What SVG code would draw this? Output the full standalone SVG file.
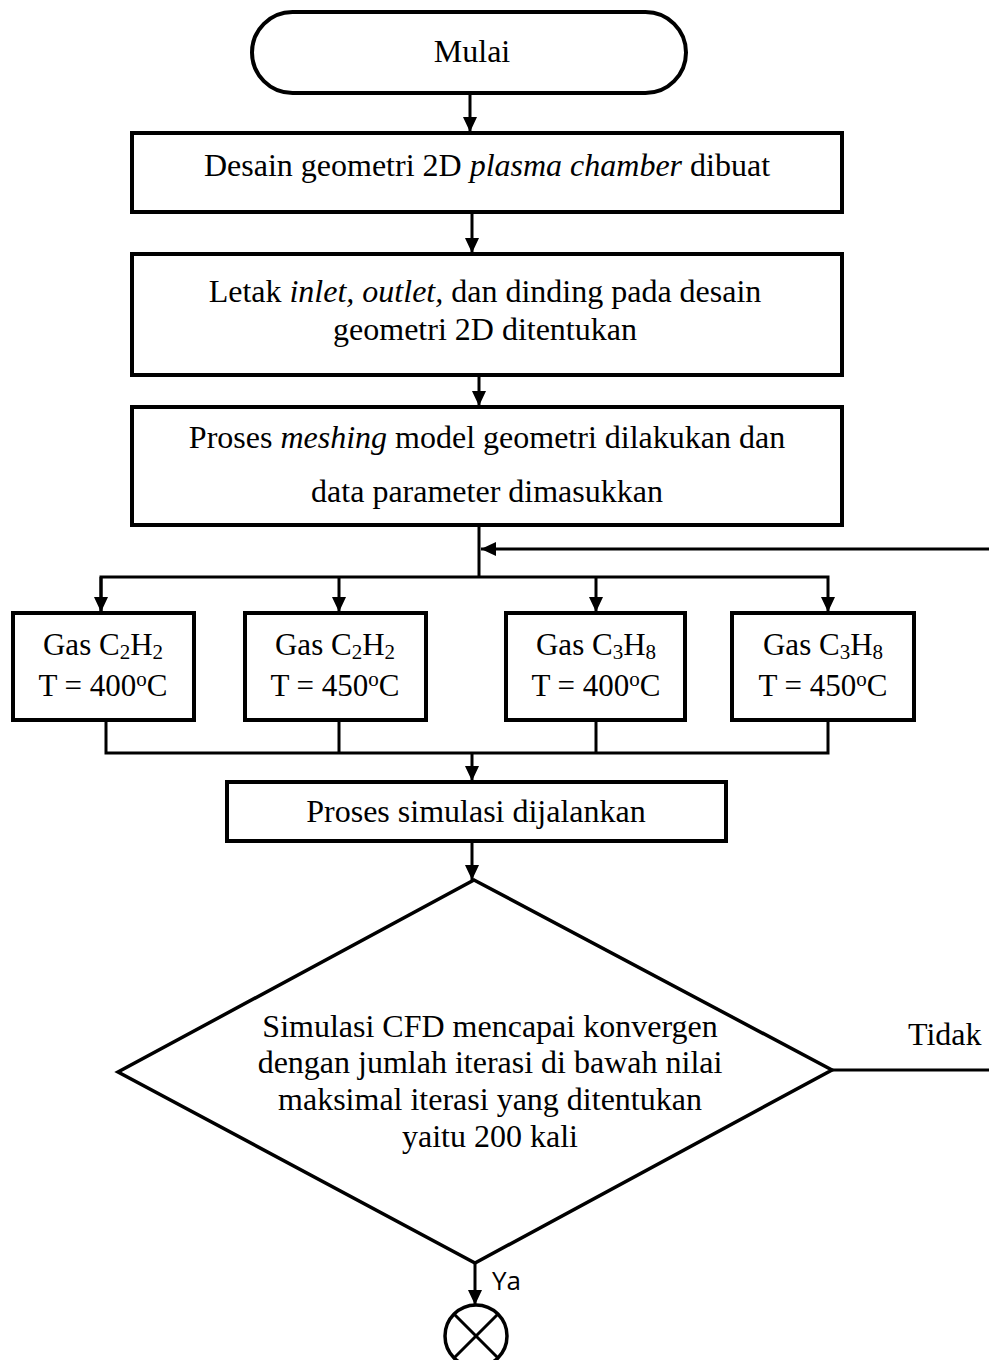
<svg xmlns="http://www.w3.org/2000/svg" width="989" height="1360" viewBox="0 0 989 1360">
<style>
  .box { fill: #fff; stroke: #000; stroke-width: 4; }
  .ln { fill: none; stroke: #000; stroke-width: 3; }
  .t { font-family: "Liberation Serif", "Times New Roman", serif; font-size: 32px; fill: #000; text-anchor: middle; }
  .g { font-family: "Liberation Serif", "Times New Roman", serif; font-size: 31px; fill: #000; text-anchor: middle; }
  .sub { font-size: 21px; }
  .ya { font-family: "Open Sans", "DejaVu Sans", sans-serif; font-size: 26px; fill: #000; }
</style>
<defs>
  <marker id="ah" markerUnits="userSpaceOnUse" markerWidth="15" markerHeight="14" refX="15" refY="7" orient="auto">
    <path d="M0,0 L15,7 L0,14 z" fill="#000"/>
  </marker>
</defs>
<rect width="989" height="1360" fill="#fff"/>

<g id="connectors">
  <line class="ln" x1="470" y1="93" x2="470" y2="132" marker-end="url(#ah)"/>
  <line class="ln" x1="472" y1="212" x2="472" y2="253" marker-end="url(#ah)"/>
  <line class="ln" x1="479" y1="375" x2="479" y2="406" marker-end="url(#ah)"/>
  <line class="ln" x1="479" y1="525" x2="479" y2="577"/>
  <line class="ln" x1="989" y1="549" x2="481" y2="549" marker-end="url(#ah)"/>
  <polyline class="ln" points="101,612 101,577 828,577 828,612" marker-end="url(#ah)"/>
  <line class="ln" x1="101" y1="577" x2="101" y2="612" marker-end="url(#ah)"/>
  <line class="ln" x1="339" y1="577" x2="339" y2="612" marker-end="url(#ah)"/>
  <line class="ln" x1="596" y1="577" x2="596" y2="612" marker-end="url(#ah)"/>
  <polyline class="ln" points="106,720 106,753 828,753 828,720"/>
  <line class="ln" x1="339" y1="720" x2="339" y2="753"/>
  <line class="ln" x1="596" y1="720" x2="596" y2="753"/>
  <line class="ln" x1="472" y1="753" x2="472" y2="781" marker-end="url(#ah)"/>
  <line class="ln" x1="472" y1="841" x2="472" y2="880" marker-end="url(#ah)"/>
  <line class="ln" x1="832" y1="1070" x2="989" y2="1070"/>
  <line class="ln" x1="475" y1="1263" x2="475" y2="1305" marker-end="url(#ah)"/>
  <text class="t" x="908" y="1045" style="text-anchor:start">Tidak</text>
  <text class="ya" x="492" y="1290">Ya</text>
</g>

<g id="mulai">
  <rect class="box" x="252" y="12" width="434" height="81" rx="40.5" ry="40.5"/>
  <text class="t" x="472" y="62">Mulai</text>
</g>

<g id="desain">
  <rect class="box" x="132" y="133" width="710" height="79"/>
  <text class="t" x="487" y="176">Desain geometri 2D <tspan font-style="italic">plasma chamber</tspan> dibuat</text>
</g>

<g id="letak">
  <rect class="box" x="132" y="254" width="710" height="121"/>
  <text class="t" x="485" y="302">Letak <tspan font-style="italic">inlet,</tspan> <tspan font-style="italic">outlet,</tspan> dan dinding pada desain</text>
  <text class="t" x="485" y="340">geometri 2D ditentukan</text>
</g>

<g id="meshing">
  <rect class="box" x="132" y="407" width="710" height="118"/>
  <text class="t" x="487" y="448">Proses <tspan font-style="italic">meshing</tspan> model geometri dilakukan dan</text>
  <text class="t" x="487" y="502">data parameter dimasukkan</text>
</g>

<g id="gas1">
  <rect class="box" x="13" y="613" width="181" height="107"/>
  <text class="g" x="103" y="655">Gas C<tspan class="sub" dy="4">2</tspan><tspan dy="-4">H</tspan><tspan class="sub" dy="4">2</tspan></text>
  <text class="g" x="103" y="696">T = 400<tspan class="sub" dy="-10">o</tspan><tspan dy="10">C</tspan></text>
</g>

<g id="gas2">
  <rect class="box" x="245" y="613" width="181" height="107"/>
  <text class="g" x="335" y="655">Gas C<tspan class="sub" dy="4">2</tspan><tspan dy="-4">H</tspan><tspan class="sub" dy="4">2</tspan></text>
  <text class="g" x="335" y="696">T = 450<tspan class="sub" dy="-10">o</tspan><tspan dy="10">C</tspan></text>
</g>

<g id="gas3">
  <rect class="box" x="506" y="613" width="179" height="107"/>
  <text class="g" x="596" y="655">Gas C<tspan class="sub" dy="4">3</tspan><tspan dy="-4">H</tspan><tspan class="sub" dy="4">8</tspan></text>
  <text class="g" x="596" y="696">T = 400<tspan class="sub" dy="-10">o</tspan><tspan dy="10">C</tspan></text>
</g>

<g id="gas4">
  <rect class="box" x="732" y="613" width="182" height="107"/>
  <text class="g" x="823" y="655">Gas C<tspan class="sub" dy="4">3</tspan><tspan dy="-4">H</tspan><tspan class="sub" dy="4">8</tspan></text>
  <text class="g" x="823" y="696">T = 450<tspan class="sub" dy="-10">o</tspan><tspan dy="10">C</tspan></text>
</g>

<g id="simulasi">
  <rect class="box" x="227" y="782" width="499" height="59"/>
  <text class="t" x="476" y="822">Proses simulasi dijalankan</text>
</g>

<g id="keputusan">
  <polygon points="474,880 832,1070 475,1263 118,1072" fill="#fff" stroke="#000" stroke-width="3.5" stroke-linejoin="miter"/>
  <text class="t" x="490" y="1037">Simulasi CFD mencapai konvergen</text>
  <text class="t" x="490" y="1073">dengan jumlah iterasi di bawah nilai</text>
  <text class="t" x="490" y="1110">maksimal iterasi yang ditentukan</text>
  <text class="t" x="490" y="1147">yaitu 200 kali</text>
</g>

<g id="selesai">
  <circle cx="476" cy="1336" r="31" fill="#fff" stroke="#000" stroke-width="3.5"/>
  <line class="ln" x1="454" y1="1314" x2="498" y2="1358"/>
  <line class="ln" x1="498" y1="1314" x2="454" y2="1358"/>
</g>
</svg>
